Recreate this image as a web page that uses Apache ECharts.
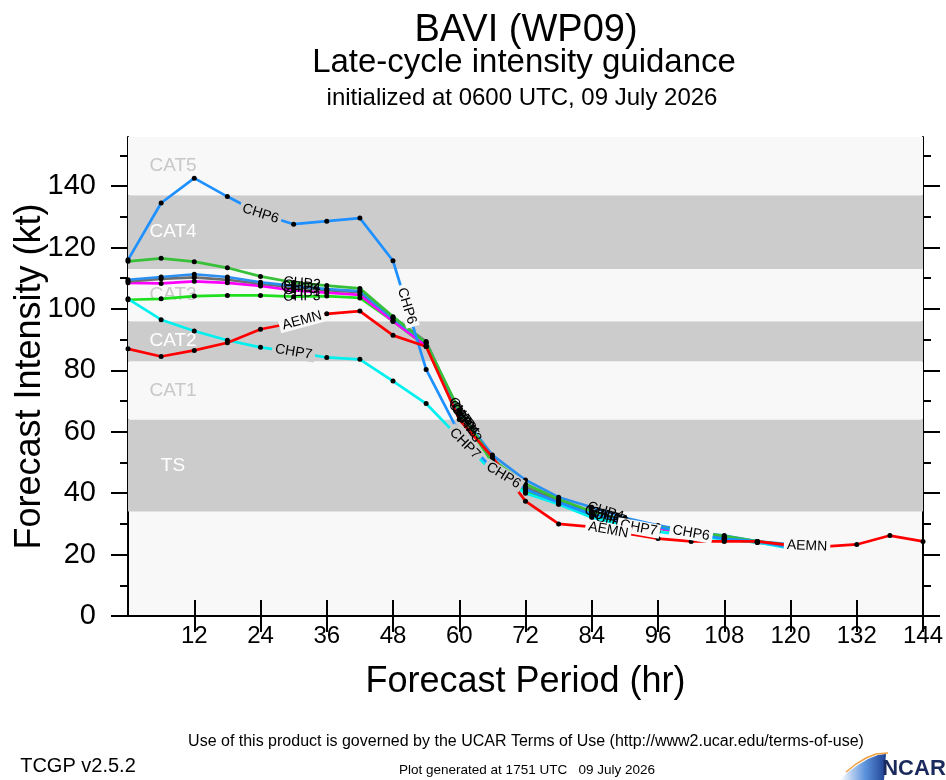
<!DOCTYPE html>
<html>
<head>
<meta charset="utf-8">
<script src="https://cdn.jsdelivr.net/npm/echarts@6/dist/echarts.min.js"></script>
<style>
  html, body { margin: 0; padding: 0; background: #ffffff; }
  #chart { width: 946px; height: 780px; }
</style>
</head>
<body>
<div id="chart"></div>
<script>
// forecast hours (6-hourly); CHP models stop at 120 h, AEMN runs to 144 h
const hours = [0, 6, 12, 18, 24, 30, 36, 42, 48, 54, 60, 66, 72, 78, 84, 90, 96, 102, 108, 114, 120, 126, 132, 138, 144];

const aemn = [87, 84.5, 86.5, 89, 93.4, 95.5, 98.4, 99.3, 91.4, 87.8, 64, 51.8, 37.4, 30, 29, 27, 25.2, 24.3, 24.3, 24.3, 23, 22.6, 23.3, 26.2, 24.3];
const chp1 = [108.5, 108.3, 109, 108.5, 107.5, 106, 105.3, 104.6, 96, 88, 66, 51, 41.5, 37, 33.5, 30.5, 28.5, 27, 25.5, 24, 22.5];
const chp2 = [115.5, 116.5, 115.4, 113.4, 110.6, 108.6, 107.6, 106.7, 97.5, 89, 67, 51, 43, 38, 34, 31, 29, 27.5, 26, 24.3, 23];
const chp3 = [103, 103.3, 104.2, 104.4, 104.4, 104, 104.2, 103.6, 96, 87.8, 66, 50, 40.5, 36.5, 32.5, 30, 28.5, 26.5, 25, 24, 22.5];
const chp4 = [109.5, 110.4, 111.3, 110.4, 108.7, 107.5, 106.5, 105.8, 96.8, 89, 66.5, 52.4, 44.3, 38.7, 35.4, 32, 29.5, 27.5, 26.2, 24.3, 23.3];
const chp5 = [109, 109.8, 110.3, 109.5, 108.2, 107, 106.1, 105.5, 97.2, 89.4, 66, 51, 42, 37.4, 34, 31, 29, 27, 25.5, 24, 23];
const chp6 = [116, 134.5, 142.6, 136.6, 131, 127.6, 128.6, 129.6, 115.7, 80.3, 59.5, 48, 41.3, 37, 33.1, 30.9, 29, 27, 25.1, 24.3, 22.3];
const chp7 = [103.3, 96.5, 92.8, 89.8, 87.5, 86, 84.2, 83.6, 76.5, 69.2, 58, 47, 40, 36.4, 32.1, 29.5, 27.5, 26, 25, 24, 22];

const xTicks = [12, 24, 36, 48, 60, 72, 84, 96, 108, 120, 132, 144];
const yTicks = [0, 20, 40, 60, 80, 100, 120, 140];
const yMinorTicks = [10, 30, 50, 70, 90, 110, 130, 150];

// Saffir-Simpson bands (kt)
const bandNames = ['TS', 'CAT1', 'CAT2', 'CAT3', 'CAT4', 'CAT5'];
const bandLow = [34, 64, 83, 96, 113, 137];
const bandHigh = [64, 83, 96, 113, 137, 156];

// where the in-line model labels sit (forecast hour)
const labelHours = {
  AEMN: [31.5, 87, 123],
  CHP7: [30, 61, 92.5],
  CHP6: [24, 50.5, 68, 102],
  CHP2: [31.5, 60.5, 86],
  CHP4: [31.5, 61, 86.5],
  CHP5: [31, 61, 87],
  CHP1: [31.5, 60.5, 87.5],
  CHP3: [31.5, 61.5, 88]
};

const FONT = '"Liberation Sans", Arial, Helvetica, sans-serif';
const LIGHT = '#f8f8f8';
const GRAY = '#cccccc';

const models = [
  { name: 'CHP3', data: chp3, color: '#1fe01f', gap: false },
  { name: 'CHP1', data: chp1, color: '#ff00ff', gap: false },
  { name: 'CHP5', data: chp5, color: '#6e6e6e', gap: false },
  { name: 'CHP4', data: chp4, color: '#2a8ff0', gap: false },
  { name: 'CHP2', data: chp2, color: '#38c038', gap: false },
  { name: 'CHP7', data: chp7, color: '#00f0f0', gap: true },
  { name: 'CHP6', data: chp6, color: '#1e90ff', gap: true },
  { name: 'AEMN', data: aemn, color: '#ff0000', gap: true }
];

function isGrayBand(i) { return i % 2 === 0; }

function bandColorAt(v) {
  for (let i = 0; i < bandNames.length; i++) {
    if (v >= bandLow[i] && v < bandHigh[i]) {
      return isGrayBand(i) ? GRAY : LIGHT;
    }
  }
  return LIGHT;
}

function valueAt(data, h) {
  const i = Math.min(Math.floor(h / 6), data.length - 2);
  const t = (h - hours[i]) / (hours[i + 1] - hours[i]);
  return data[i] + (data[i + 1] - data[i]) * t;
}

const chart = echarts.init(document.getElementById('chart'));

const bandAreas = bandNames.map(function (name, i) {
  return [
    {
      yAxis: bandLow[i],
      itemStyle: { color: isGrayBand(i) ? GRAY : LIGHT },
      label: {
        show: true,
        formatter: name,
        position: [45, '50%'],
        align: 'center',
        verticalAlign: 'middle',
        fontFamily: FONT,
        fontSize: 19,
        color: isGrayBand(i) ? '#ffffff' : '#c8c8c8'
      }
    },
    { yAxis: bandHigh[i] }
  ];
});

function buildSeries(withLabels) {
  const list = models.map(function (m) {
    const s = {
      name: m.name,
      type: 'line',
      xAxisIndex: 0,
      yAxisIndex: 0,
      data: m.data.map(function (v, i) { return [hours[i], v]; }),
      symbol: 'circle',
      symbolSize: 5,
      showSymbol: true,
      itemStyle: { color: '#000000' },
      lineStyle: { color: m.color, width: 2.7 },
      emphasis: { disabled: true },
      z: 3
    };
    if (withLabels) {
      s.markPoint = {
        symbol: 'circle',
        symbolSize: 1,
        itemStyle: { color: 'rgba(0,0,0,0)' },
        silent: true,
        data: labelHours[m.name].map(function (h) {
          const v = valueAt(m.data, h);
          const i = Math.min(Math.floor(h / 6), m.data.length - 2);
          const p1 = chart.convertToPixel({ gridIndex: 0 }, [hours[i], m.data[i]]);
          const p2 = chart.convertToPixel({ gridIndex: 0 }, [hours[i + 1], m.data[i + 1]]);
          const ang = Math.atan2(-(p2[1] - p1[1]), p2[0] - p1[0]) * 180 / Math.PI;
          const lab = {
            show: true,
            formatter: m.name,
            position: 'inside',
            rotate: ang,
            fontFamily: FONT,
            fontSize: 14,
            color: '#000000'
          };
          if (m.gap) {
            lab.backgroundColor = bandColorAt(v);
            lab.padding = [0, 3];
          }
          return { coord: [h, v], label: lab };
        })
      };
    }
    return s;
  });
  // background bands live on a dummy series under everything
  list.unshift({
    name: 'bands',
    type: 'line',
    data: [],
    silent: true,
    z: 1,
    markArea: { silent: true, data: bandAreas }
  });
  return list;
}

function textEl(text, x, y, size, weight, color) {
  return {
    type: 'text',
    x: x,
    y: y,
    silent: true,
    style: {
      text: text,
      fontFamily: FONT,
      fontSize: size,
      fontWeight: weight || 'normal',
      fill: color || '#000000',
      align: 'center',
      verticalAlign: 'middle',
      textAlign: 'center',
      textVerticalAlign: 'middle'
    }
  };
}

const axisLineStyle = { lineStyle: { color: '#000000', width: 2 } };

const option = {
  backgroundColor: '#ffffff',
  animation: false,
  textStyle: { fontFamily: FONT },
  grid: {
    left: 128, right: 23, top: 137, bottom: 164,
    outerBoundsMode: 'none',
    containLabel: false,
    show: true, backgroundColor: LIGHT, borderWidth: 0
  },
  xAxis: [
    {
      type: 'value', min: 0, max: 144, interval: 12, position: 'bottom',
      name: 'Forecast Period (hr)', nameLocation: 'middle', nameGap: 48,
      nameMoveOverlap: false,
      nameTextStyle: { fontSize: 36, color: '#000000', fontFamily: FONT },
      axisLine: axisLineStyle,
      axisTick: { show: true, inside: false, length: 16, customValues: xTicks, lineStyle: { color: '#000', width: 2 } },
      axisLabel: { customValues: xTicks, fontSize: 24, color: '#000000', margin: 8, fontFamily: FONT },
      splitLine: { show: false }
    },
    {
      type: 'value', min: 0, max: 144, interval: 12, position: 'top',
      axisLine: axisLineStyle,
      axisTick: { show: true, inside: false, length: 16, customValues: xTicks, lineStyle: { color: '#000', width: 2 } },
      axisLabel: { show: false },
      splitLine: { show: false }
    }
  ],
  yAxis: [
    {
      type: 'value', min: 0, max: 156, position: 'left',
      name: 'Forecast Intensity (kt)', nameLocation: 'middle', nameGap: 80, nameRotate: 90,
      nameMoveOverlap: false,
      nameTextStyle: { fontSize: 36, color: '#000000', fontFamily: FONT },
      axisLine: { show: true, lineStyle: { color: '#000', width: 2 } },
      axisTick: { show: true, length: 17, customValues: yTicks, lineStyle: { color: '#000', width: 2 } },
      axisLabel: { customValues: yTicks, fontSize: 29, color: '#000000', margin: 32, fontFamily: FONT },
      splitLine: { show: false }
    },
    {
      type: 'value', min: 0, max: 156, position: 'left',
      axisLine: { show: false },
      axisTick: { show: true, length: 8, customValues: yMinorTicks, lineStyle: { color: '#000', width: 2 } },
      axisLabel: { show: false },
      splitLine: { show: false }
    },
    {
      type: 'value', min: 0, max: 156, position: 'right',
      axisLine: { show: true, lineStyle: { color: '#000', width: 2 } },
      axisTick: { show: true, length: 17, customValues: yTicks, lineStyle: { color: '#000', width: 2 } },
      axisLabel: { show: false },
      splitLine: { show: false }
    },
    {
      type: 'value', min: 0, max: 156, position: 'right',
      axisLine: { show: false },
      axisTick: { show: true, length: 8, customValues: yMinorTicks, lineStyle: { color: '#000', width: 2 } },
      axisLabel: { show: false },
      splitLine: { show: false }
    }
  ],
  graphic: [
    textEl('BAVI (WP09)', 526, 31, 38),
    textEl('Late-cycle intensity guidance', 524, 63, 33),
    textEl('initialized at 0600 UTC, 09 July 2026', 522, 98, 24),
    textEl('Use of this product is governed by the UCAR Terms of Use (http://www2.ucar.edu/terms-of-use)', 526, 742, 16),
    textEl('TCGP v2.5.2', 78, 766, 20),
    textEl('Plot generated at 1751 UTC   09 July 2026', 527, 770, 13.5),
    {
      type: 'polygon', silent: true,
      shape: { points: [[840, 780], [848, 772], [858, 765], [868, 759], [878, 755], [886, 754], [884, 780]] },
      style: {
        fill: new echarts.graphic.LinearGradient(0, 0, 1, 0, [
          { offset: 0, color: '#ffffff' },
          { offset: 0.55, color: '#5b92dc' },
          { offset: 1, color: '#1d3f8e' }
        ])
      }
    },
    {
      type: 'polyline', silent: true,
      shape: { points: [[846, 772], [856, 764], [866, 758], [876, 754], [888, 753]] },
      style: { stroke: '#f0a040', lineWidth: 1.5, fill: null }
    },
    textEl('NCAR', 914, 769, 22, 'bold', '#1b2a5c')
  ],
  series: buildSeries(false)
};

chart.setOption(option);
// second pass: labels need the pixel scale to follow the line direction
chart.setOption({ series: buildSeries(true) });
</script>
</body>
</html>
